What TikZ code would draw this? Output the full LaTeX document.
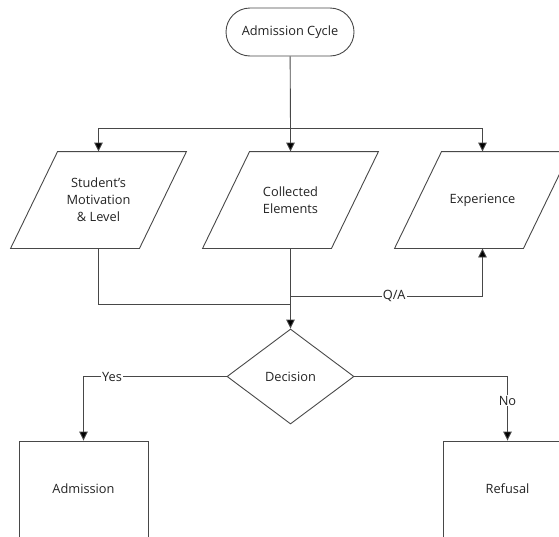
\documentclass[tikz,border=0pt]{standalone}
\usepackage{fontspec}
\setmainfont{Open Sans}
\usetikzlibrary{shapes.geometric,shapes.misc,arrows.meta}
\definecolor{linegray}{RGB}{72,72,72}
\definecolor{textdark}{RGB}{35,35,35}
\tikzstyle{startbox}=[rounded rectangle,draw=linegray,
                      minimum width=128,minimum height=48,inner sep=0pt]
\tikzstyle{iobox}=[rectangle,minimum width=128,minimum height=96,
                   inner sep=0pt,align=center]
\tikzstyle{decbox}=[diamond,draw=linegray,aspect=1.34,
                    minimum width=127,minimum height=95,inner sep=0pt]
\tikzstyle{endbox}=[rectangle,draw=linegray,
                    minimum width=129,minimum height=96,inner sep=0pt]
\tikzstyle{arr}=[-{Triangle[length=9pt,width=8.5pt,fill=black]}]
\tikzstyle{lbl}=[fill=white,inner sep=1pt]

\begin{document}
\begin{tikzpicture}[x=1pt,y=-1pt,line width=0.9pt,draw=linegray,
    font=\fontsize{12.8}{17}\selectfont,text=textdark]
    \clip (0,0) rectangle (559,536);
    \node (start) at (290,32) [startbox] {Admission Cycle};
    \node (mot) at (98.5,200) [iobox] {Student's\\Motivation\\\& Level};
    \node (col) at (290.5,200) [iobox] {Collected\\Elements};
    \node (exp) at (482.5,200) [iobox] {Experience};
    \foreach \n in {mot,col,exp}
      \draw ([xshift=23.5]\n.north west) -- ([xshift=23.5]\n.north east)
        -- ([xshift=-23.5]\n.south east) -- ([xshift=-23.5]\n.south west)
        -- cycle;
    \node (dec) at (290.5,376.5) [decbox] {Decision};
    \node (adm) at (83.5,489) [endbox] {Admission};
    \node (ref) at (507.5,489) [endbox] {Refusal};
    \coordinate (split) at (290.5,128);
    \coordinate (join) at (290.5,304);
    \coordinate (qa) at (290.5,296);
    \draw (start) -- (split);
    \draw[arr] (split) -| (mot.north);
    \draw[arr] (split) -- (col.north);
    \draw[arr] (split) -| (exp.north);
    \draw (mot.south) |- (join);
    \draw[arr] (col.south) -- (dec.north);
    \draw[arr] (qa) -| node[lbl,pos=0.27] {Q/A} (exp.south);
    \draw[arr] (dec.west) -| node[lbl,pos=0.4] {Yes} (adm.north);
    \draw[arr] (dec.east) -| node[lbl,pos=0.69] {No} (ref.north);
  \end{tikzpicture}
\end{document}
